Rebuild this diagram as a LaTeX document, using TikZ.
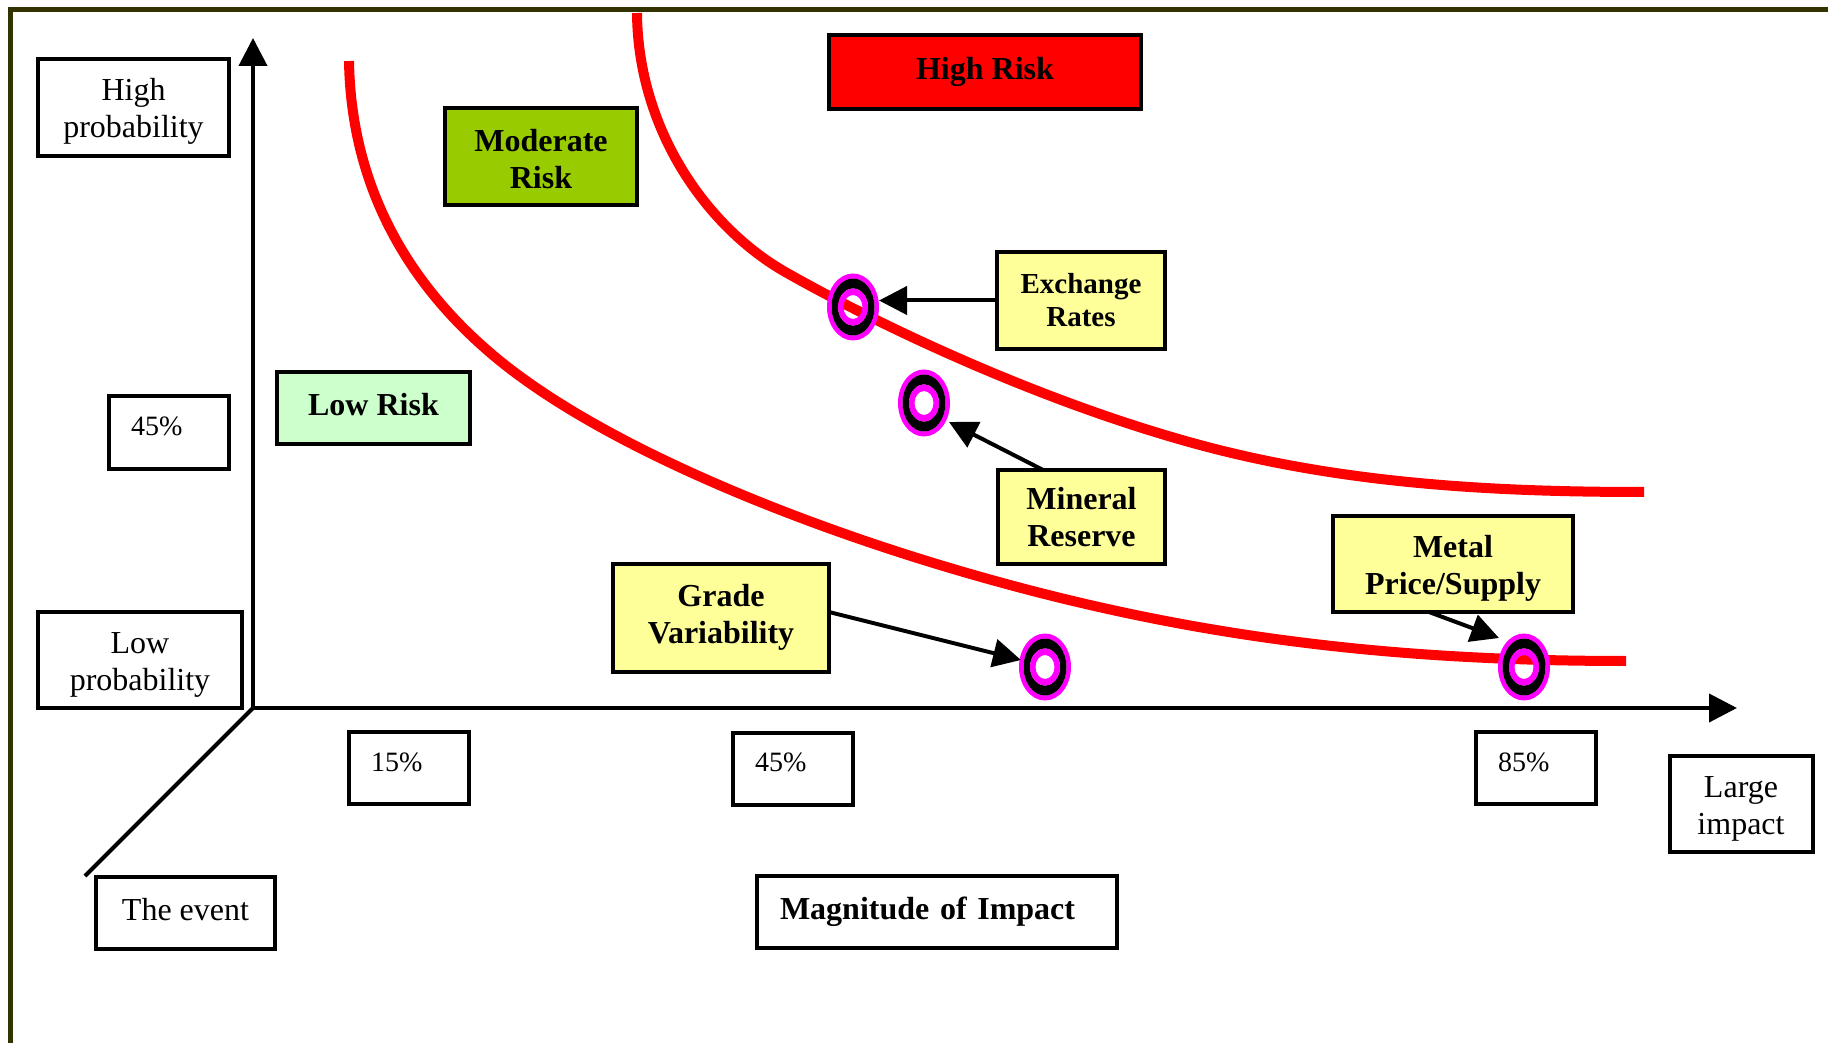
\documentclass[tikz,border=0pt]{standalone}
\usepackage{fontspec}
\setmainfont{Liberation Serif}
\usetikzlibrary{arrows.meta,calc}
\definecolor{frameol}{HTML}{333300}
\definecolor{modgreen}{HTML}{99CC00}
\definecolor{lowgreen}{HTML}{CCFFCC}
\definecolor{paleyellow}{HTML}{FFFF99}
\definecolor{hotpink}{HTML}{FF00FF}
\definecolor{riskred}{HTML}{FF0000}
\newcommand{\ringmark}[1]{%
  \fill[hotpink, even odd rule] (#1) ellipse [x radius=13pt, y radius=16.75pt] (#1) ellipse [x radius=10.75pt, y radius=14.25pt];
  \fill[black, even odd rule] (#1) ellipse [x radius=10.75pt, y radius=14.25pt] (#1) ellipse [x radius=7.5pt, y radius=9.25pt];
  \fill[hotpink, even odd rule] (#1) ellipse [x radius=7.5pt, y radius=9.25pt] (#1) ellipse [x radius=4.75pt, y radius=6pt];}
\newcommand{\liftby}[2]{\raisebox{#1}[\height][\depth]{#2}}
\newcommand{\twolines}[3]{\raisebox{#1}[\height][\depth]{\begin{tabular}{@{}c@{}}#2\\#3\end{tabular}}}
\begin{document}
\begin{tikzpicture}[x=0.5pt,y=-0.5pt,
  box/.style={draw=black, line width=2pt, inner sep=0pt, outer sep=0pt, align=center,
    font=\fontsize{16}{18.5}\selectfont},
  boldbox/.style={box, font=\fontsize{16}{18.5}\selectfont\bfseries},
  ybox/.style={boldbox, fill=paleyellow},
  pctbox/.style={box, font=\fontsize{14}{16}\selectfont, align=left, inner xsep=11pt,
    text width=38pt, minimum height=36pt},
  frameline/.style={draw=frameol, line width=2.5pt},
  riskcurve/.style={draw=riskred, line width=5pt, line cap=butt},
  axisline/.style={draw=black, line width=2pt},
  conn/.style={draw=black, line width=2pt, -{Triangle[length=14pt,width=14pt]}},
  bothtips/.style={{Triangle[length=14pt,width=14pt]}-{Triangle[length=14pt,width=14pt]}}
]
\useasboundingbox (0,0) rectangle (1828,1043);
\fill[white] (0,0) rectangle (1828,1043);

% frame
\draw[frameline] (10,1043) -- (10,10) -- (1828,10);

% risk curves
\draw[riskcurve] (349,61) .. controls (351,180) and (402,276) .. (487,350)
  .. controls (592,442) and (794,523) .. (967,573)
  .. controls (1178,634) and (1376,661) .. (1626,661);
\draw[riskcurve] (637,13) .. controls (638,130) and (707,228) .. (787,273)
  .. controls (897,335) and (1055,406) .. (1200,445)
  .. controls (1345,484) and (1494,492) .. (1644,492);

% axes
\coordinate (O) at (253,708);
\coordinate (Ytip) at (253,38);
\coordinate (Xtip) at (1737,708);
\coordinate (Dend) at (85,876);
\draw[axisline, bothtips] (Ytip) -- (O) -- (Xtip);
\draw[axisline] (O) -- (Dend);

% boxes
\node[box, minimum width=95.5pt, minimum height=48.5pt] (hp) at (133.5,107.5) {\twolines{-2pt}{High}{probability}};
\node[boldbox, fill=modgreen, minimum width=96pt, minimum height=48.5pt] (mod) at (541,156.5) {\twolines{-2.9pt}{Moderate}{Risk}};
\node[boldbox, fill=riskred, minimum width=156pt, minimum height=37pt] (hr) at (985,72) {High Risk};
\node[ybox, font=\fontsize{14.5}{16.3}\selectfont\bfseries, minimum width=84pt, minimum height=48.5pt] (ex) at (1081,300.5) {\twolines{-1.6pt}{Exchange}{Rates}};
\node[boldbox, fill=lowgreen, minimum width=96.5pt, minimum height=36pt] (lr) at (373.5,408) {\liftby{1.75pt}{Low Risk}};
\node[pctbox, minimum height=36.5pt] (py45) at (169,432.5) {\liftby{2.9pt}{45\%}};
\node[ybox, minimum width=83.5pt, minimum height=47pt] (mr) at (1081.5,517) {\twolines{-1.7pt}{Mineral}{Reserve}};
\node[ybox, minimum width=120pt, minimum height=48pt] (mp) at (1453,564) {\twolines{-2.35pt}{Metal}{Price/Supply}};
\node[ybox, minimum width=108pt, minimum height=54pt] (gv) at (721,618) {\twolines{0pt}{Grade}{Variability}};
\node[box, minimum width=102pt, minimum height=48pt] (lp) at (140,660) {\twolines{-2.1pt}{Low}{probability}};
\node[pctbox] (p15) at (409,768) {\liftby{2.9pt}{15\%}};
\node[pctbox] (p45) at (793,768.5) {\liftby{2.9pt}{45\%}};
\node[pctbox] (p85) at (1536,768) {\liftby{2.9pt}{85\%}};
\node[box, minimum width=71.5pt, minimum height=48pt] (li) at (1741,804) {\twolines{-2.5pt}{Large}{impact}};
\node[box, minimum width=89.5pt, minimum height=36pt] (ev) at (185.5,913) {\liftby{1.75pt}{The event}};
\node[box, font=\fontsize{16}{18.5}\selectfont\bfseries, align=left, inner xsep=11.5pt, text width=157pt, minimum height=36pt] (mag) at (937,912) {Magnitude of Impact};

% markers
\coordinate (m1) at (853,307);
\coordinate (m2) at (924,403);
\coordinate (m3) at (1045,667);
\coordinate (m4) at (1524,667);
\ringmark{m1}
\ringmark{m2}
\ringmark{m3}
\ringmark{m4}

% connectors
\coordinate (t1) at ($(m1)+(26,-7)$);
\coordinate (t2) at ($(m2)+(25,19)$);
\coordinate (t3) at ($(m3)+(-24,-7)$);
\coordinate (t4) at ($(m4)+(-25,-29)$);
\draw[conn] (ex.west) -- (ex.west -| t1);
\draw[conn] ($(mr.north west)!0.27!(mr.north east)$) -- (t2);
\draw[conn] ($(gv.east)+(0,-6)$) -- (t3);
\draw[conn] ($(mp.south west)!0.4!(mp.south east)$) -- (t4);
\end{tikzpicture}
\end{document}
